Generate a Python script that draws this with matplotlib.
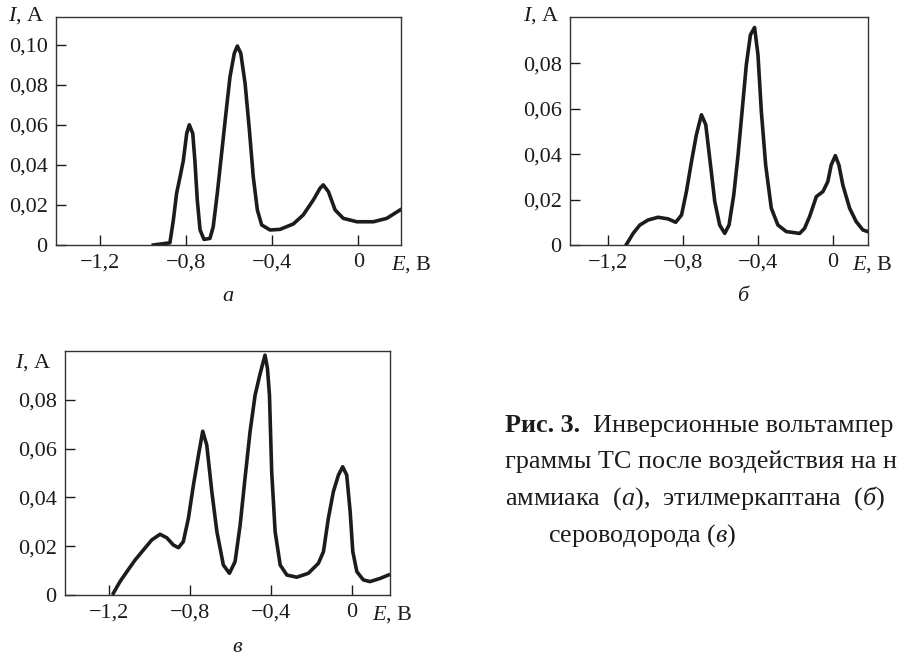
import matplotlib.pyplot as plt

plt.rcParams['font.family'] = ['Liberation Serif', 'DejaVu Serif']
plt.rcParams['mathtext.fontset'] = 'custom'
plt.rcParams['mathtext.rm'] = 'Liberation Serif'
plt.rcParams['mathtext.it'] = 'Liberation Serif:italic'

W, H = 902, 659

# curve а (аммиак): E, В / I, А
e_a = [-0.952, -0.875, -0.859, -0.844, -0.828, -0.813, -0.797, -0.785, -0.769,
       -0.759, -0.748, -0.735, -0.717, -0.689, -0.674, -0.655, -0.635, -0.615,
       -0.596, -0.576, -0.562, -0.546, -0.526, -0.506, -0.488, -0.469, -0.449,
       -0.410, -0.364, -0.302, -0.256, -0.209, -0.178, -0.163, -0.139, -0.108,
       -0.070, -0.007, 0.070, 0.132, 0.194]
i_a = [0.0, 0.0011, 0.0125, 0.0258, 0.034, 0.042, 0.0557, 0.060, 0.0557,
       0.042, 0.0225, 0.0075, 0.0028, 0.0033, 0.0091, 0.0258, 0.0457, 0.0657,
       0.084, 0.0957, 0.0993, 0.0957, 0.0807, 0.0574, 0.034, 0.0175, 0.010,
       0.0075, 0.0078, 0.0105, 0.015, 0.0225, 0.0283, 0.030, 0.0266, 0.0175,
       0.0133, 0.0116, 0.0116, 0.0133, 0.0175]

# curve б (этилмеркаптан)
e_b = [-1.099, -1.064, -1.028, -0.984, -0.931, -0.878, -0.837, -0.806, -0.780,
       -0.753, -0.727, -0.700, -0.677, -0.656, -0.629, -0.603, -0.576, -0.553,
       -0.528, -0.505, -0.482, -0.461, -0.439, -0.417, -0.399, -0.381, -0.358,
       -0.328, -0.293, -0.248, -0.177, -0.151, -0.124, -0.088, -0.053, -0.027,
       -0.009, 0.013, 0.032, 0.053, 0.089, 0.124, 0.160, 0.186]
i_b = [0.0003, 0.0051, 0.0088, 0.011, 0.0122, 0.0115, 0.010, 0.0132, 0.0235,
       0.0367, 0.0485, 0.0573, 0.0529, 0.0382, 0.0191, 0.0088, 0.0051, 0.0088,
       0.022, 0.0396, 0.0602, 0.0793, 0.0925, 0.0957, 0.0837, 0.0587, 0.0352,
       0.0162, 0.0088, 0.0059, 0.0051, 0.0073, 0.0125, 0.0213, 0.0235, 0.0279,
       0.0352, 0.0393, 0.0352, 0.0264, 0.0162, 0.0103, 0.0066, 0.0059]

# curve в (сероводород)
e_c = [-1.179, -1.146, -1.112, -1.071, -1.030, -0.989, -0.948, -0.915, -0.882,
       -0.857, -0.833, -0.808, -0.783, -0.758, -0.737, -0.717, -0.692, -0.667,
       -0.635, -0.605, -0.577, -0.552, -0.528, -0.503, -0.478, -0.457, -0.440,
       -0.429, -0.417, -0.407, -0.396, -0.379, -0.354, -0.321, -0.272, -0.215,
       -0.165, -0.140, -0.116, -0.091, -0.066, -0.045, -0.025, -0.008, 0.005,
       0.025, 0.057, 0.090, 0.140, 0.181]
i_c = [0.0007, 0.0055, 0.0096, 0.0144, 0.0185, 0.0226, 0.0249, 0.0235, 0.0205,
       0.0194, 0.0219, 0.0314, 0.0451, 0.0574, 0.0672, 0.0615, 0.0424, 0.026,
       0.0123, 0.0089, 0.0137, 0.0287, 0.0478, 0.067, 0.082, 0.0895, 0.095,
       0.0984, 0.093, 0.082, 0.0506, 0.026, 0.0123, 0.0082, 0.0073, 0.0089,
       0.013, 0.0178, 0.0314, 0.0424, 0.0492, 0.0526, 0.0492, 0.0342, 0.0178,
       0.0096, 0.0062, 0.0055, 0.0068, 0.0082]

x_ticks = [-1.2, -0.8, -0.4, 0.0]
x_labels = ['\u22121,2', '\u22120,8', '\u22120,4', '0']
y_ticks_a = [0.0, 0.02, 0.04, 0.06, 0.08, 0.10]
y_labels_a = ['0', '0,02', '0,04', '0,06', '0,08', '0,10']
y_ticks_bc = [0.0, 0.02, 0.04, 0.06, 0.08]
y_labels_bc = ['0', '0,02', '0,04', '0,06', '0,08']

FS = 16
INK = '#1c1c1c'


def box(l, t, r, b):
    return [l / W, 1 - b / H, (r - l) / W, (b - t) / H]


def px(x, y):
    return x / W, 1 - y / H


def setup(ax, e, i, xlim, ylim, yt, yl):
    ax.plot(e, i, color=INK, lw=2.6, solid_joinstyle='round')
    ax.set_xlim(*xlim)
    ax.set_ylim(*ylim)
    ax.set_xticks(x_ticks)
    ax.set_xticklabels(x_labels)
    ax.set_yticks(yt)
    ax.set_yticklabels(yl)
    ax.tick_params(direction='in', length=7, width=1, labelsize=FS,
                   colors=INK, pad=6)
    for s in ax.spines.values():
        s.set_linewidth(1)
        s.set_color('#333333')


fig = plt.figure(figsize=(W / 100, H / 100), dpi=100)

ax_a = fig.add_axes(box(56, 17, 401, 245))
setup(ax_a, e_a, i_a, (-1.404, 0.198), (0, 0.1138), y_ticks_a, y_labels_a)

ax_b = fig.add_axes(box(570, 17, 868, 245))
setup(ax_b, e_b, i_b, (-1.40, 0.187), (0, 0.1003), y_ticks_bc, y_labels_bc)

ax_c = fig.add_axes(box(65, 351, 390, 595))
setup(ax_c, e_c, i_c, (-1.418, 0.189), (0, 0.1001), y_ticks_bc, y_labels_bc)

# axis names and panel letters
for (ix, iy), (ex, ey), (lx, ly, letter) in [
        ((8, 16), (391, 265), (228, 297, 'а')),
        ((523, 16), (852, 265), (743, 297, 'б')),
        ((15, 363), (372, 615), (237, 648, 'в'))]:
    fig.text(*px(ix, iy), '$I$, А', fontsize=FS, color=INK, va='center')
    fig.text(*px(ex, ey), '$E$, В', fontsize=FS, color=INK, va='center')
    fig.text(*px(lx, ly), letter, fontsize=FS, color=INK, style='italic',
             ha='center', va='center')

# caption (the page scan cuts it at the right edge)
CFS = 18.8
fig.text(*px(505, 432), 'Рис. 3.', fontsize=CFS, weight='bold', color=INK,
         va='baseline')
fig.text(*px(593, 432), 'Инверсионные вольтампер', fontsize=CFS, color=INK,
         va='baseline')
fig.text(*px(505, 468), 'граммы ТС после воздействия на н', fontsize=CFS,
         color=INK, va='baseline')
fig.text(*px(505, 505), r'аммиака  ($\mathit{а}$),  этилмеркаптана  ($\mathit{б}$)',
         fontsize=CFS, color=INK, va='baseline')
fig.text(*px(548, 542), r'сероводорода ($\mathit{в}$)', fontsize=CFS,
         color=INK, va='baseline')

fig.savefig('out.png', dpi=100)
